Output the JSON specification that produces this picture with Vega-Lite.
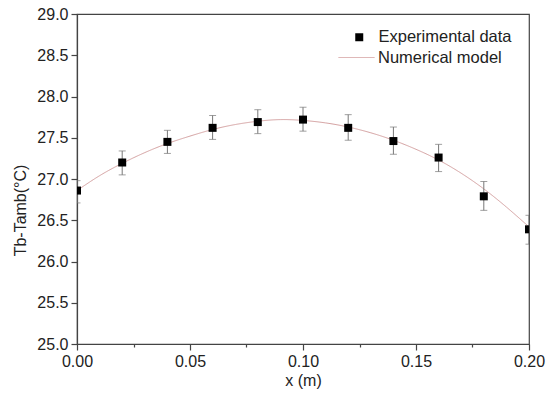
{
  "$schema": "https://vega.github.io/schema/vega-lite/v6.json",
  "width": 452,
  "height": 330,
  "autosize": {"type": "none"},
  "padding": {"left": 77, "top": 14, "right": 21, "bottom": 53},
  "background": "white",
  "config": {
    "view": {"stroke": "#444", "strokeWidth": 1.2},
    "font": "Liberation Sans",
    "axis": {
      "labelFont": "Liberation Sans",
      "labelFontSize": 16,
      "labelColor": "#222",
      "titleFont": "Liberation Sans",
      "titleFontSize": 16,
      "titleFontWeight": "normal",
      "titleColor": "#222",
      "domainColor": "#444",
      "domainWidth": 1.2,
      "tickColor": "#444",
      "tickWidth": 1.2,
      "grid": false
    },
    "legend": {"labelFont": "Liberation Sans", "labelFontSize": 16.5, "labelColor": "#222", "padding": 0}
  },
  "datasets": {
    "exp": [
      {"x": 0.00, "y": 26.86, "lo": 26.71, "hi": 26.98, "series": "Experimental data"},
      {"x": 0.02, "y": 27.20, "lo": 27.05, "hi": 27.34, "series": "Experimental data"},
      {"x": 0.04, "y": 27.45, "lo": 27.31, "hi": 27.59, "series": "Experimental data"},
      {"x": 0.06, "y": 27.62, "lo": 27.48, "hi": 27.77, "series": "Experimental data"},
      {"x": 0.08, "y": 27.69, "lo": 27.55, "hi": 27.84, "series": "Experimental data"},
      {"x": 0.10, "y": 27.72, "lo": 27.58, "hi": 27.87, "series": "Experimental data"},
      {"x": 0.12, "y": 27.62, "lo": 27.47, "hi": 27.78, "series": "Experimental data"},
      {"x": 0.14, "y": 27.46, "lo": 27.30, "hi": 27.63, "series": "Experimental data"},
      {"x": 0.16, "y": 27.26, "lo": 27.09, "hi": 27.42, "series": "Experimental data"},
      {"x": 0.18, "y": 26.79, "lo": 26.62, "hi": 26.97, "series": "Experimental data"},
      {"x": 0.20, "y": 26.39, "lo": 26.21, "hi": 26.56, "series": "Experimental data"}
    ],
    "model": [
      {"x": 0.00, "y": 26.86, "series": "Numerical model"},
      {"x": 0.01, "y": 27.04, "series": "Numerical model"},
      {"x": 0.02, "y": 27.19, "series": "Numerical model"},
      {"x": 0.03, "y": 27.32, "series": "Numerical model"},
      {"x": 0.04, "y": 27.43, "series": "Numerical model"},
      {"x": 0.05, "y": 27.52, "series": "Numerical model"},
      {"x": 0.06, "y": 27.60, "series": "Numerical model"},
      {"x": 0.07, "y": 27.66, "series": "Numerical model"},
      {"x": 0.08, "y": 27.70, "series": "Numerical model"},
      {"x": 0.09, "y": 27.72, "series": "Numerical model"},
      {"x": 0.10, "y": 27.71, "series": "Numerical model"},
      {"x": 0.11, "y": 27.68, "series": "Numerical model"},
      {"x": 0.12, "y": 27.63, "series": "Numerical model"},
      {"x": 0.13, "y": 27.56, "series": "Numerical model"},
      {"x": 0.14, "y": 27.47, "series": "Numerical model"},
      {"x": 0.15, "y": 27.36, "series": "Numerical model"},
      {"x": 0.16, "y": 27.23, "series": "Numerical model"},
      {"x": 0.17, "y": 27.07, "series": "Numerical model"},
      {"x": 0.18, "y": 26.88, "series": "Numerical model"},
      {"x": 0.19, "y": 26.66, "series": "Numerical model"},
      {"x": 0.20, "y": 26.42, "series": "Numerical model"}
    ]
  },
  "encoding": {
    "x": {
      "field": "x", "type": "quantitative",
      "scale": {"domain": [0, 0.2], "nice": false, "zero": false},
      "axis": {
        "title": "x (m)",
        "values": [0, 0.025, 0.05, 0.075, 0.1, 0.125, 0.15, 0.175, 0.2],
        "labelExpr": "indexof([0,0.05,0.1,0.15,0.2], datum.value) >= 0 ? format(datum.value, '.2f') : ''",
        "tickSize": {"condition": {"test": "indexof([0,0.05,0.1,0.15,0.2], datum.value) >= 0", "value": 6}, "value": 3},
        "labelPadding": 3,
        "titlePadding": 3,
        "labelFlush": false,
        "labelOverlap": false
      }
    },
    "y": {
      "type": "quantitative",
      "scale": {"domain": [25, 29], "nice": false, "zero": false},
      "axis": {
        "title": "Tb-Tamb(°C)",
        "values": [25, 25.5, 26, 26.5, 27, 27.5, 28, 28.5, 29],
        "format": ".1f",
        "tickSize": 6,
        "labelPadding": 3,
        "titleX": -57,
        "titleY": 196,
        "titleAngle": -90,
        "titleAlign": "center",
        "titleBaseline": "middle",
        "labelFlush": false,
        "labelOverlap": false
      }
    }
  },
  "layer": [
    {
      "data": {"name": "model"},
      "mark": {"type": "line", "color": "#d4a0a0", "strokeWidth": 1, "interpolate": "natural", "clip": true},
      "encoding": {
        "y": {"field": "y", "type": "quantitative"},
        "strokeDash": {
          "field": "series", "type": "nominal",
          "scale": {"domain": ["Numerical model"], "range": [[1, 0]]},
          "legend": {
            "orient": "none", "legendX": 261, "legendY": 25, "title": null,
            "symbolType": "stroke", "symbolSize": 1296, "symbolStrokeColor": "#d4a0a0",
            "symbolStrokeWidth": 1, "labelOffset": 3
          }
        }
      }
    },
    {
      "data": {"name": "exp"},
      "mark": {"type": "rule", "color": "#777", "strokeWidth": 1, "clip": true},
      "encoding": {
        "y": {"field": "lo", "type": "quantitative"},
        "y2": {"field": "hi"}
      }
    },
    {
      "data": {"name": "exp"},
      "mark": {"type": "tick", "orient": "horizontal", "color": "#777", "size": 7, "thickness": 1, "clip": true},
      "encoding": {"y": {"field": "lo", "type": "quantitative"}}
    },
    {
      "data": {"name": "exp"},
      "mark": {"type": "tick", "orient": "horizontal", "color": "#777", "size": 7, "thickness": 1, "clip": true},
      "encoding": {"y": {"field": "hi", "type": "quantitative"}}
    },
    {
      "data": {"name": "exp"},
      "mark": {"type": "point", "filled": true, "color": "black", "opacity": 1, "size": 64, "clip": true},
      "encoding": {
        "y": {"field": "y", "type": "quantitative"},
        "shape": {
          "field": "series", "type": "nominal",
          "scale": {"domain": ["Experimental data"], "range": ["square"]},
          "legend": {
            "orient": "none", "legendX": 274, "legendY": 15, "title": null,
            "symbolSize": 64, "symbolFillColor": "black", "symbolStrokeColor": "black",
            "symbolStrokeWidth": 0, "symbolOpacity": 1, "labelOffset": 11
          }
        }
      }
    }
  ]
}
